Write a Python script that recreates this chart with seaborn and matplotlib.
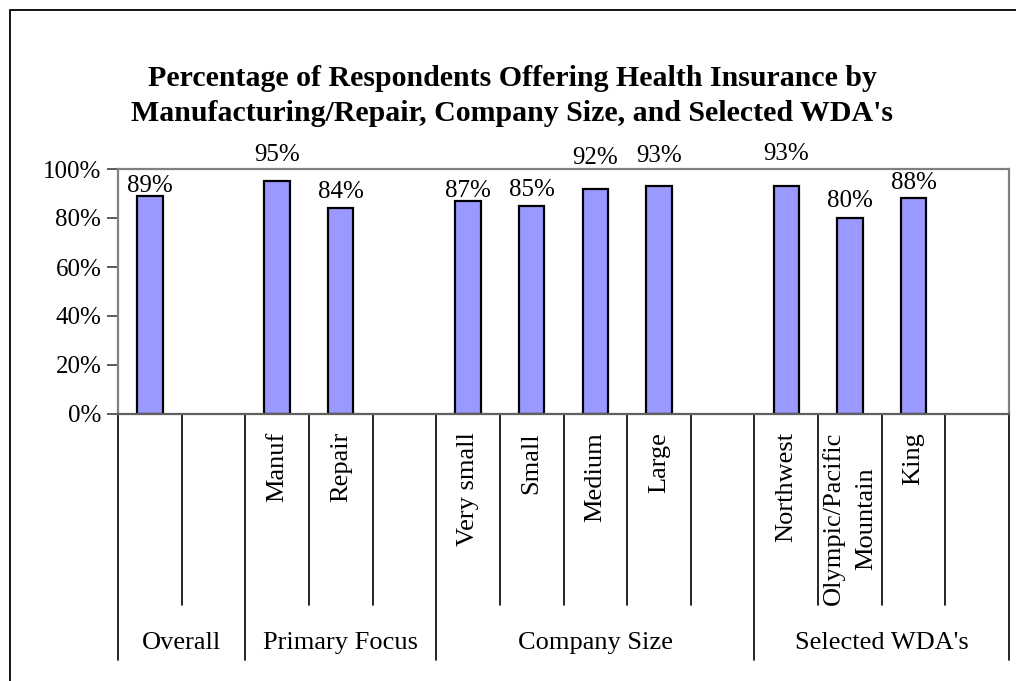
import matplotlib
matplotlib.use("Agg")
import matplotlib.pyplot as plt
import matplotlib.transforms as mtransforms
from matplotlib.ticker import PercentFormatter
from matplotlib.patches import Rectangle
import seaborn as sns
import pandas as pd

# Category groups and their members (blank slots separate the groups)
groups = ["Overall", "Primary Focus", "Company Size", "Selected WDA's"]
group_members = [
    ["Overall"],
    ["Manuf", "Repair"],
    ["Very small", "Small", "Medium", "Large"],
    ["Northwest", "Olympic/Pacific\nMountain", "King"],
]
# Percentage of respondents offering health insurance
values = [0.89, 0.95, 0.84, 0.87, 0.85, 0.92, 0.93, 0.93, 0.80, 0.88]
# Text shown under each bar (the "Overall" bar has no sub-label)
sub_labels = ["", "Manuf", "Repair", "Very small", "Small", "Medium", "Large",
              "Northwest", "Olympic/Pacific\nMountain", "King"]

title = ("Percentage of Respondents Offering Health Insurance by\n"
         "Manufacturing/Repair, Company Size, and Selected WDA's")

# Gap (pixels) between each bar top and the baseline of its value label
label_gap_px = [4, 20, 10, 4, 10, 25, 24, 26, 11, 9]

# Build the slot order: each group followed by an empty spacer slot
order, slot_text, group_spans = [], [], []
keys = []
k = 0
for gi, members in enumerate(group_members):
    start = len(order)
    for m in members:
        key = f"c{k}"
        keys.append(key)
        order.append(key)
        slot_text.append(sub_labels[k])
        k += 1
    order.append(" " * (gi + 1))
    slot_text.append(None)
    group_spans.append((start, len(order)))

df = pd.DataFrame({"key": keys, "value": values})

sns.set_theme(style="white")
plt.rcParams["font.family"] = ["Liberation Serif", "DejaVu Serif"]
plt.rcParams["text.color"] = "black"
plt.rcParams["axes.labelcolor"] = "black"
plt.rcParams["ytick.color"] = "black"

fig = plt.figure(figsize=(10.16, 6.81), dpi=100)
W, H = 1016, 681
ax = fig.add_axes([118 / W, 1 - 414 / H, 891 / W, 245 / H])

sns.barplot(data=df, x="key", y="value", order=order, color="#9999FF",
            saturation=1, width=0.4, edgecolor="black", linewidth=1.6, ax=ax)

n = len(order)
ax.set_xlim(-0.5, n - 0.5)
ax.set_ylim(0, 1.0)
ax.set_yticks([0, 0.2, 0.4, 0.6, 0.8, 1.0])
ax.yaxis.set_major_formatter(PercentFormatter(1.0, decimals=0))
ax.tick_params(axis="y", labelsize=18, length=8, width=1.2, color="#404040",
               pad=4, left=True, labelcolor="black")
ax.set_xticks([])
ax.set_xlabel("")
ax.set_ylabel("")
for s in ["top", "right", "left", "bottom"]:
    ax.spines[s].set_color("#808080")
    ax.spines[s].set_linewidth(1.6)
ax.spines["bottom"].set_color("#606060")

# Value labels above the bars
bars = [p for p in ax.patches if p.get_height() == p.get_height() and p.get_height() > 0]
bars.sort(key=lambda p: p.get_x())
for bar, v, gap in zip(bars, values, label_gap_px):
    ax.annotate(f"{v * 100:.0f}%", (bar.get_x() + bar.get_width() / 2, v),
                xytext=(0, gap), textcoords="offset pixels",
                ha="center", va="baseline", fontsize=18, color="black",
                annotation_clip=False)

# Multi-level category axis beneath the plot
trans = mtransforms.blended_transform_factory(ax.transData, ax.transAxes)
inner_depth = -191 / 245
outer_depth = -246 / 245
group_starts = {s for s, _ in group_spans} | {n}
for b in range(n + 1):
    depth = outer_depth if b in group_starts else inner_depth
    ax.plot([b - 0.5, b - 0.5], [0, depth], color="black", lw=1.2,
            transform=trans, clip_on=False)

for i, txt in enumerate(slot_text):
    if txt:
        ax.text(i, -18 / 245, txt, rotation=90, ha="center", va="top",
                multialignment="center", fontsize=19, transform=trans,
                linespacing=1.6)

for name, (s, e) in zip(groups, group_spans):
    ax.text((s + e - 1) / 2, -229 / 245, name, ha="center", va="center",
            fontsize=19, transform=trans)

fig.text(512 / W, 1 - 96 / H, title, ha="center", va="center",
         fontsize=21.5, fontweight="bold", linespacing=1.36)

# Chart-area border
fig.patches.append(Rectangle((10 / W, -0.05), 1.2, 1 - 10 / H + 0.05,
                             transform=fig.transFigure, fill=False,
                             edgecolor="black", lw=1.3))

fig.savefig("out.png", dpi=100)
